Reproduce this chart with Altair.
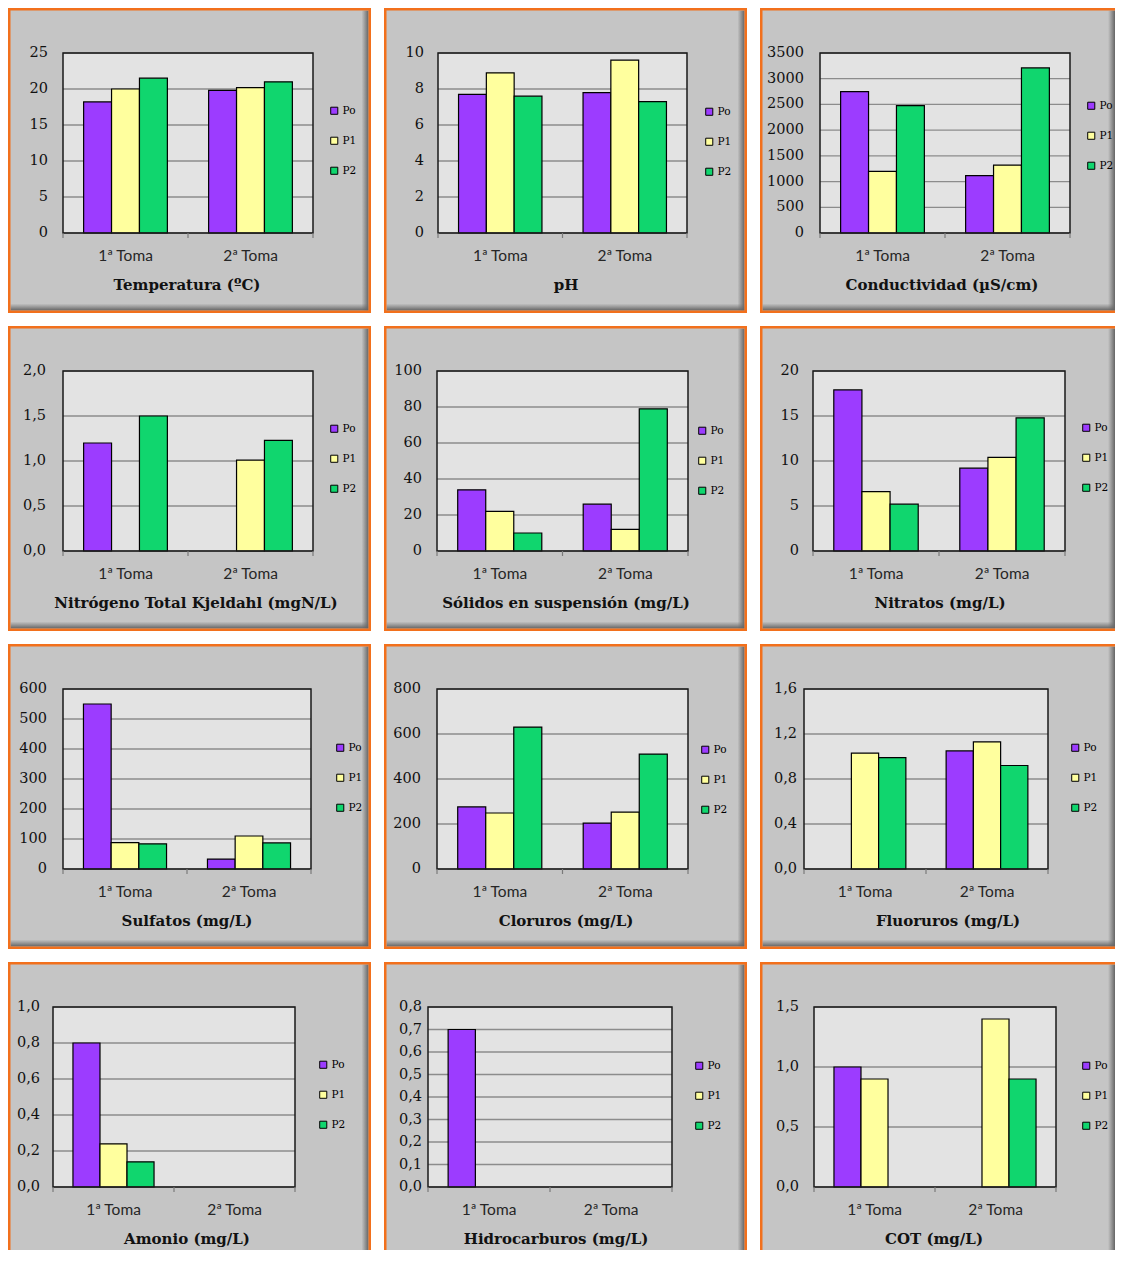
import altair as alt
import pandas as pd

TOMAS = ["1ª Toma", "2ª Toma"]
SERIES = ["Po", "P1", "P2"]
COLORS = ["#9c3cff", "#ffff9e", "#10d66e"]

# values per series: [1ª Toma, 2ª Toma]; None = no bar
temperatura = {"Po": [18.2, 19.8], "P1": [20.0, 20.2], "P2": [21.5, 21.0]}
ph = {"Po": [7.7, 7.8], "P1": [8.9, 9.6], "P2": [7.6, 7.3]}
conductividad = {"Po": [2750, 1115], "P1": [1200, 1320], "P2": [2475, 3210]}
nitrogeno = {"Po": [1.2, None], "P1": [None, 1.01], "P2": [1.5, 1.23]}
solidos = {"Po": [34, 26], "P1": [22, 12], "P2": [10, 79]}
nitratos = {"Po": [17.9, 9.2], "P1": [6.6, 10.4], "P2": [5.2, 14.8]}
sulfatos = {"Po": [550, 33], "P1": [88, 110], "P2": [84, 87]}
cloruros = {"Po": [276, 204], "P1": [249, 253], "P2": [631, 511]}
fluoruros = {"Po": [None, 1.05], "P1": [1.03, 1.13], "P2": [0.99, 0.92]}
amonio = {"Po": [0.80, None], "P1": [0.24, None], "P2": [0.14, None]}
hidrocarburos = {"Po": [0.70, None], "P1": [None, None], "P2": [None, None]}
cot = {"Po": [1.0, None], "P1": [0.9, 1.4], "P2": [None, 0.9]}

ticks_temperatura = [0, 5, 10, 15, 20, 25]
ticks_ph = [0, 2, 4, 6, 8, 10]
ticks_conductividad = [0, 500, 1000, 1500, 2000, 2500, 3000, 3500]
ticks_nitrogeno = [0, 0.5, 1.0, 1.5, 2.0]
ticks_solidos = [0, 20, 40, 60, 80, 100]
ticks_nitratos = [0, 5, 10, 15, 20]
ticks_sulfatos = [0, 100, 200, 300, 400, 500, 600]
ticks_cloruros = [0, 200, 400, 600, 800]
ticks_fluoruros = [0, 0.4, 0.8, 1.2, 1.6]
ticks_amonio = [0, 0.2, 0.4, 0.6, 0.8, 1.0]
ticks_hidrocarburos = [0, 0.1, 0.2, 0.3, 0.4, 0.5, 0.6, 0.7, 0.8]
ticks_cot = [0, 0.5, 1.0, 1.5]

W, H = 363, 305
W_LAST, H_LAST = 355, 288   # last column / last row are cut by the page edge
PY0, PY1 = 45, 225
ORANGE = "#f2701c"
PANEL_BG = "#c5c5c5"
PLOT_BG = "#e3e3e3"
GRID = "#8c8c8c"
SHADE_H = alt.Gradient(
    gradient="linear", x1=0, x2=1, y1=0, y2=0,
    stops=[alt.GradientStop(color="rgba(110,110,110,0)", offset=0),
           alt.GradientStop(color="rgba(100,100,100,1)", offset=1)],
)
SHADE_V = alt.Gradient(
    gradient="linear", x1=0, x2=0, y1=0, y2=1,
    stops=[alt.GradientStop(color="rgba(110,110,110,0)", offset=0),
           alt.GradientStop(color="rgba(100,100,100,1)", offset=1)],
)

# title, data, ticks, decimals, plot x0, plot x1, label right, title x, legend x, legend first-centre y
PANELS = [
    ("Temperatura (ºC)", temperatura, ticks_temperatura, 0, 55, 305, 40, 179, 321, 103),
    ("pH", ph, ticks_ph, 0, 54, 303, 40, 182, 320, 104),
    ("Conductividad (µS/cm)", conductividad, ticks_conductividad, 0, 60, 310, 44, 182, 326, 98),
    ("Nitrógeno Total Kjeldahl (mgN/L)", nitrogeno, ticks_nitrogeno, 1, 55, 305, 38, 188, 321, 103),
    ("Sólidos en suspensión (mg/L)", solidos, ticks_solidos, 0, 53, 304, 38, 182, 313, 105),
    ("Nitratos (mg/L)", nitratos, ticks_nitratos, 0, 53, 305, 39, 180, 321, 102),
    ("Sulfatos (mg/L)", sulfatos, ticks_sulfatos, 0, 55, 303, 39, 179, 327, 104),
    ("Cloruros (mg/L)", cloruros, ticks_cloruros, 0, 53, 304, 37, 182, 316, 106),
    ("Fluoruros (mg/L)", fluoruros, ticks_fluoruros, 1, 44, 288, 37, 188, 310, 104),
    ("Amonio (mg/L)", amonio, ticks_amonio, 1, 45, 287, 32, 179, 310, 103),
    ("Hidrocarburos (mg/L)", hidrocarburos, ticks_hidrocarburos, 1, 44, 288, 38, 172, 310, 104),
    ("COT (mg/L)", cot, ticks_cot, 1, 54, 296, 39, 174, 321, 104),
]


def fmt(v, dec):
    return f"{v:.{dec}f}".replace(".", ",")


def panel(title, data, ticks, dec, x0, x1, labr, tx, lx, ly, w, h, cut_right, cut_bottom):
    rows = []
    for s in SERIES:
        for t, v in zip(TOMAS, data[s]):
            if v is not None:
                rows.append({"toma": t, "serie": s, "valor": v})
    bars_df = pd.DataFrame(rows)
    ticks_df = pd.DataFrame({"v": ticks, "lab": [fmt(v, dec) for v in ticks]})
    one = pd.DataFrame({"k": [0]})
    tomas_df = pd.DataFrame({"toma": TOMAS})

    xs = alt.Scale(domain=TOMAS, range=[x0, x1], paddingInner=0.33, paddingOuter=0.165)
    ys = alt.Scale(domain=[0, ticks[-1]], range=[PY1, PY0], nice=False, zero=True)

    # panel box edges (outer border line centre)
    bx2 = w + 12 if cut_right else w - 1.25
    by2 = h + 12 if cut_bottom else h - 1.25
    inner_r = w if cut_right else w - 2.5
    inner_b = h if cut_bottom else h - 2.5

    layers = []
    layers.append(alt.Chart(one).mark_rect(fill=PANEL_BG, clip=True).encode(
        x=alt.value(1), x2=alt.value(bx2), y=alt.value(1), y2=alt.value(by2)))
    layers.append(alt.Chart(one).mark_rect(fill=SHADE_H).encode(
        x=alt.value(inner_r - 7), x2=alt.value(inner_r), y=alt.value(2.5), y2=alt.value(inner_b)))
    if not cut_bottom:
        layers.append(alt.Chart(one).mark_rect(fill=SHADE_V).encode(
            x=alt.value(2.5), x2=alt.value(inner_r), y=alt.value(inner_b - 7), y2=alt.value(inner_b)))
    layers.append(alt.Chart(one).mark_rect(fillOpacity=0, stroke=ORANGE, strokeWidth=2.5,
                                           clip=True).encode(
        x=alt.value(1.25), x2=alt.value(bx2), y=alt.value(1.25), y2=alt.value(by2)))

    layers.append(alt.Chart(one).mark_rect(fill=PLOT_BG).encode(
        x=alt.value(x0), x2=alt.value(x1), y=alt.value(PY0), y2=alt.value(PY1)))
    layers.append(alt.Chart(ticks_df).mark_rule(stroke=GRID, strokeWidth=1.3).encode(
        y=alt.Y("v:Q", scale=ys, axis=None), x=alt.value(x0), x2=alt.value(x1)))
    layers.append(alt.Chart(bars_df).mark_bar(stroke="black", strokeWidth=1.2).encode(
        x=alt.X("toma:N", scale=xs, axis=None),
        xOffset=alt.XOffset("serie:N", scale=alt.Scale(domain=SERIES, paddingInner=0, paddingOuter=0)),
        y=alt.Y("valor:Q", scale=ys, axis=None),
        color=alt.Color("serie:N", scale=alt.Scale(domain=SERIES, range=COLORS),
                        legend=alt.Legend(orient="none", legendX=lx, legendY=ly - 5.5, title=None,
                                          symbolType="square", symbolSize=50,
                                          symbolStrokeColor="black", symbolStrokeWidth=1,
                                          labelFont="DejaVu Serif", labelFontSize=10.5,
                                          labelColor="black", rowPadding=18, labelOffset=3,
                                          padding=0)),
    ))
    layers.append(alt.Chart(one).mark_rect(fillOpacity=0, stroke="#1a1a1a", strokeWidth=1.5).encode(
        x=alt.value(x0), x2=alt.value(x1), y=alt.value(PY0), y2=alt.value(PY1)))
    for xx in (x0, (x0 + x1) / 2, x1):
        layers.append(alt.Chart(one).mark_rule(stroke="#7a7a7a", strokeWidth=1.2).encode(
            x=alt.value(xx), y=alt.value(PY1), y2=alt.value(PY1 + 5)))
    layers.append(alt.Chart(ticks_df).mark_text(align="right", baseline="middle", font="DejaVu Serif",
                                                fontSize=14.5, color="#111111").encode(
        y=alt.Y("v:Q", scale=ys, axis=None), x=alt.value(labr), text="lab:N"))
    layers.append(alt.Chart(tomas_df).mark_text(align="center", baseline="middle", font="Lato",
                                                fontSize=15.5, color="#262626").encode(
        x=alt.X("toma:N", scale=xs, axis=None), y=alt.value(248), text="toma:N"))
    layers.append(alt.Chart(one).mark_text(align="center", baseline="middle", font="DejaVu Serif",
                                           fontSize=15, fontWeight="bold", color="#111111").encode(
        x=alt.value(tx), y=alt.value(277), text=alt.value(title)))
    return alt.layer(*layers).properties(width=w, height=h)


charts = []
for i, p in enumerate(PANELS):
    col, row = i % 3, i // 3
    last_col, last_row = col == 2, row == 3
    charts.append(panel(*p, W_LAST if last_col else W, H_LAST if last_row else H,
                        last_col, last_row))

rows = []
for i in range(0, 12, 3):
    rows.append(
        alt.hconcat(*charts[i:i + 3], spacing=13)
        .resolve_scale(x="independent", y="independent", color="independent", xOffset="independent")
        .resolve_legend(color="independent")
    )

chart = (
    alt.vconcat(*rows, spacing=13)
    .resolve_scale(x="independent", y="independent", color="independent", xOffset="independent")
    .resolve_legend(color="independent")
    .properties(padding=0, background="white")
    .configure_view(strokeWidth=0)
)

chart.save("out.html", embed_options={"renderer": "svg", "actions": False})
